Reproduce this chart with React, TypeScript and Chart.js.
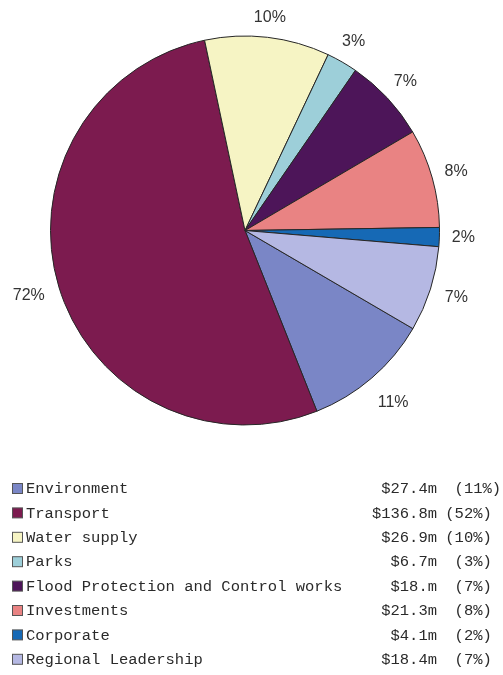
import React, { useEffect, useRef } from "react";
import { Chart, registerables } from "chart.js";

Chart.register(...registerables);

const categories = [
  "Environment",
  "Transport",
  "Water supply",
  "Parks",
  "Flood Protection and Control works",
  "Investments",
  "Corporate",
  "Regional Leadership",
];
const amounts = [27.4, 136.8, 26.9, 6.7, 18, 21.3, 4.1, 18.4];
const amountLabels = ["$27.4m", "$136.8m", "$26.9m", "$6.7m", "$18.m", "$21.3m", "$4.1m", "$18.4m"];
const shareLabels = ["  (11%)", " (52%)", " (10%)", "  (3%)", "  (7%)", "  (8%)", "  (2%)", "  (7%)"];
const sliceLabels = ["11%", "72%", "10%", "3%", "7%", "8%", "2%", "7%"];
const colors = [
  "#7a86c6",
  "#7c1b4f",
  "#f6f4c4",
  "#9dcfd9",
  "#4d1559",
  "#e98383",
  "#1669b5",
  "#b5b8e3",
];

const sliceLabelPlugin = {
  id: "sliceLabels",
  afterDatasetsDraw(chart: any) {
    const ctx = chart.ctx;
    const meta = chart.getDatasetMeta(0);
    ctx.save();
    ctx.font = '16px "Liberation Sans", Arial, sans-serif';
    ctx.fillStyle = "#333333";
    ctx.textAlign = "center";
    ctx.textBaseline = "middle";
    meta.data.forEach((arc: any, i: number) => {
      const p = arc.getProps(["x", "y", "startAngle", "endAngle", "outerRadius"], true);
      const mid = (p.startAngle + p.endAngle) / 2;
      const text = sliceLabels[i];
      const w = ctx.measureText(text).width;
      const h = 12;
      const c = Math.cos(mid);
      const s = Math.sin(mid);
      const dist =
        p.outerRadius + 12 + Math.abs(c) * w / 2 + Math.abs(s) * h / 2 + 8 * Math.max(0, s);
      ctx.fillText(text, p.x + c * dist, p.y + s * dist);
    });
    ctx.restore();
  },
};

const legendPlugin = {
  id: "tableLegend",
  afterDraw(chart: any) {
    const ctx = chart.ctx;
    ctx.save();
    ctx.font = '15.5px "Liberation Mono", "Courier New", monospace';
    ctx.textBaseline = "middle";
    categories.forEach((name, i) => {
      const y = 489 + i * 24.4;
      ctx.fillStyle = colors[i];
      ctx.fillRect(12.5, y - 5.5, 10, 10);
      ctx.strokeStyle = "#555555";
      ctx.lineWidth = 1;
      ctx.strokeRect(12.5, y - 5.5, 10, 10);
      ctx.fillStyle = "#2a2a2a";
      ctx.textAlign = "left";
      ctx.fillText(name, 26, y);
      ctx.textAlign = "right";
      ctx.fillText(amountLabels[i], 437, y);
      ctx.textAlign = "left";
      ctx.fillText(shareLabels[i], 436, y);
    });
    ctx.restore();
  },
};

export default function App() {
  const ref = useRef<HTMLCanvasElement | null>(null);
  useEffect(() => {
    if (!ref.current) return;
    const chart = new Chart(ref.current, {
      type: "pie",
      data: {
        labels: categories,
        datasets: [
          {
            data: amounts,
            backgroundColor: colors,
            borderColor: "#262626",
            borderWidth: 1,
          },
        ],
      },
      options: {
        responsive: false,
        animation: false,
        devicePixelRatio: 1,
        rotation: 120.3,
        layout: { padding: { left: 50, right: 63, top: 35, bottom: 249 } },
        plugins: {
          legend: { display: false },
          tooltip: { enabled: false },
        },
      },
      plugins: [sliceLabelPlugin, legendPlugin],
    });
    return () => chart.destroy();
  }, []);
  return (
    <div style={{ position: "absolute", left: 0, top: 0, width: 503, height: 675, background: "#ffffff" }}>
      <canvas ref={ref} width={503} height={675} style={{ width: 503, height: 675, display: "block" }} />
    </div>
  );
}
